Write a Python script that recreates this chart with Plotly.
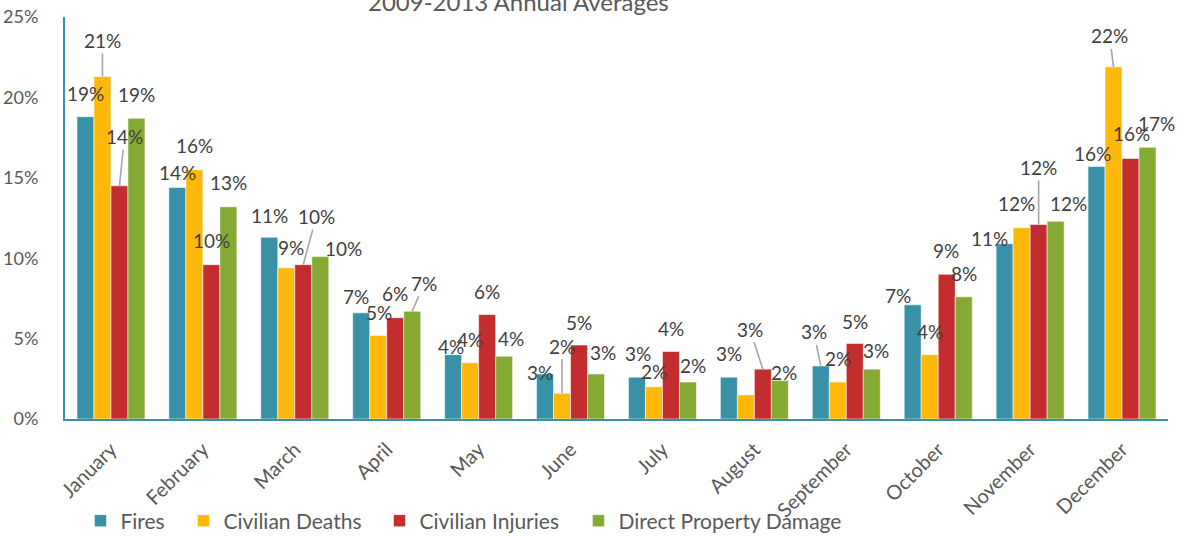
import plotly.graph_objects as go

months = ["January", "February", "March", "April", "May", "June", "July",
          "August", "September", "October", "November", "December"]
series_names = ["Fires", "Civilian Deaths", "Civilian Injuries", "Direct Property Damage"]

fires = [18.8, 14.4, 11.3, 6.6, 4.0, 2.8, 2.6, 2.6, 3.3, 7.1, 10.9, 15.7]
deaths = [21.3, 15.5, 9.4, 5.2, 3.5, 1.6, 2.0, 1.5, 2.3, 4.0, 11.9, 21.9]
injuries = [14.5, 9.6, 9.6, 6.3, 6.5, 4.6, 4.2, 3.1, 4.7, 9.0, 12.1, 16.2]
property_damage = [18.7, 13.2, 10.1, 6.7, 3.9, 2.8, 2.3, 2.4, 3.1, 7.6, 12.3, 16.9]

series_values = [fires, deaths, injuries, property_damage]
colors = ["#3891A7", "#FEB80A", "#C32D2E", "#84AA33"]

# label placement (pixel offsets of label centre from bar top, leader flag)
# per series, per month: (dx, dy, leader) ; None = hidden label
label_pos = [
    [(0, -23, 0), (0, -15, 0), (0, -22, 0), (-5, -16, 0), (-2, -8, 0), (-5, -1, 0),
     (1, -24, 0), (0, -24, 0), (-7, -34, 1), (-15, -9, 0), (-15, -5, 0), (-4, -13, 0)],
    [(0, -36, 1), (0, -24, 0), (5, -20, 0), (1, -23, 0), (0, -23, 0), (0, -47, 1),
     (0, -15, 0), None, (0, -24, 0), (0, -23, 0), (-5, -24, 0), (-4, -31, 1)],
    [(5, -49, 1), (0, -24, 0), (13, -48, 1), (0, -24, 0), (0, -23, 0), (0, -23, 0),
     (0, -23, 0), (-13, -40, 1), (0, -22, 0), (-1, -24, 0), (0, -57, 1), (1, -25, 0)],
    [(0, -24, 0), (0, -24, 0), (23, -8, 0), (12, -28, 1), (7, -18, 0), (7, -21, 0),
     (5, -17, 0), (4, -8, 0), (4, -19, 0), (0, -23, 0), (13, -18, 0), (9, -24, 0)],
]
legend_x = [0.0140, 0.1074, 0.2851, 0.4655]

BARGAP = 0.26
bar_w = (1 - BARGAP) / 4
FONT = "Lato, 'Open Sans', sans-serif"
TEXT = "#404040"
GREY = "#595959"

fig = go.Figure()
for k, (name, vals, col) in enumerate(zip(series_names, series_values, colors)):
    fig.add_trace(go.Bar(
        x=months, y=vals, name=name,
        marker=dict(color=col, line=dict(color="rgba(255,255,255,0.55)", width=1)),
        hoverinfo="skip",
        legend="legend" if k == 0 else f"legend{k + 1}",
    ))

annotations = []
for k, vals in enumerate(series_values):
    for i, v in enumerate(vals):
        pos = label_pos[k][i]
        if pos is None:
            continue
        dx, dy, leader = pos
        xpos = i + (k - 1.5) * bar_w
        txt = f"{round(v)}%"
        if leader:
            annotations.append(dict(
                x=xpos, y=v, xref="x", yref="y", text=txt,
                showarrow=True, arrowhead=0, arrowwidth=1.6, arrowcolor="#A6A6A6",
                ax=dx, ay=dy, standoff=0,
                font=dict(family=FONT, size=19, color=TEXT),
            ))
        else:
            annotations.append(dict(
                x=xpos, y=v, xref="x", yref="y", text=txt, showarrow=False,
                xanchor="center", yanchor="middle", xshift=dx, yshift=-dy,
                font=dict(family=FONT, size=19, color=TEXT),
            ))

annotations.append(dict(
    x=0.411, y=1.038, xref="paper", yref="paper", text="2009-2013 Annual Averages",
    showarrow=False, xanchor="center", yanchor="middle",
    font=dict(family=FONT, size=24, color=GREY),
))

layout_legends = {}
for k in range(4):
    key = "legend" if k == 0 else f"legend{k + 1}"
    layout_legends[key] = dict(
        orientation="h", x=legend_x[k], y=-0.2537, xanchor="left", yanchor="middle",
        font=dict(family=FONT, size=21, color=GREY), itemwidth=30,
        bgcolor="rgba(0,0,0,0)",
    )

fig.update_layout(
    width=1184, height=536,
    margin=dict(l=65, r=16, t=17, b=117, autoexpand=False),
    paper_bgcolor="white", plot_bgcolor="white",
    barmode="group", bargap=BARGAP, bargroupgap=0,
    font=dict(family=FONT, color=GREY),
    annotations=annotations,
    showlegend=True,
    **layout_legends,
)
fig.update_xaxes(
    type="category", tickangle=-45, showgrid=False, automargin=False,
    showline=True, linecolor="#3891A7", linewidth=2,
    ticks="", ticklabelstandoff=9, tickfont=dict(family=FONT, size=20, color=GREY),
    range=[-0.5, 11.5], ticklabeloverflow="allow",
)
fig.update_yaxes(
    range=[0, 25], dtick=5, ticksuffix="%", showgrid=False, zeroline=False,
    showline=True, linecolor="#3891A7", linewidth=2, automargin=False,
    ticks="", ticklabelstandoff=21, ticklabeloverflow="allow",
    tickfont=dict(family=FONT, size=18, color=GREY),
)

fig.write_html("out.html", config={"displayModeBar": False},
               post_script="document.body.style.margin='0';")
